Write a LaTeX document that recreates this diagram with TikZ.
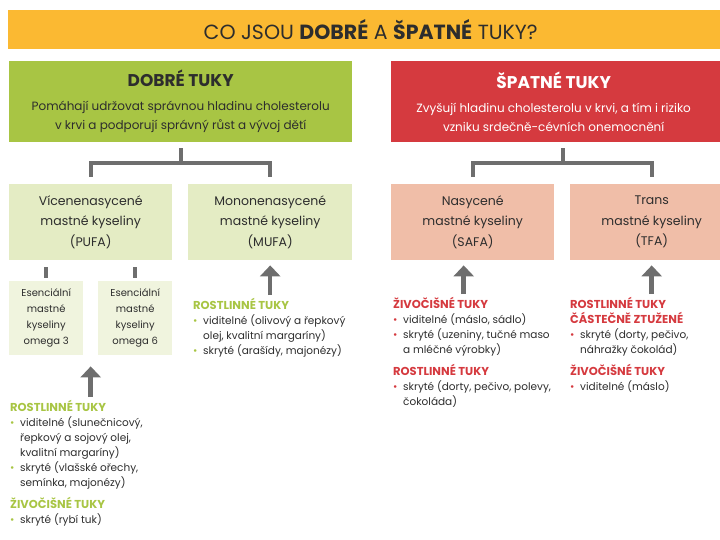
\documentclass[tikz,border=0pt]{standalone}
\usepackage{fontspec}
\setmainfont{Poppins}
\usetikzlibrary{positioning, calc, arrows.meta}
\definecolor{tukyorange}{RGB}{251,185,50}
\definecolor{goodgreen}{RGB}{168,197,68}
\definecolor{goodlight}{RGB}{228,236,196}
\definecolor{goodpale}{RGB}{240,244,222}
\definecolor{badred}{RGB}{213,58,63}
\definecolor{badlight}{RGB}{240,190,168}
\definecolor{linkgray}{RGB}{110,110,110}
\definecolor{textdark}{RGB}{45,45,45}
\newcommand{\gbul}{\makebox[10pt][l]{\textcolor{goodgreen}{\textbullet}}}
\newcommand{\rbul}{\makebox[10pt][l]{\textcolor{badred}{\textbullet}}}
\newcommand{\hang}{\hspace*{10pt}}
\newcommand{\listhead}[2]{\textcolor{#1}{\fontsize{11.5}{15}\selectfont\bfseries #2}}
\tikzset{
  titlebar/.style={fill=tukyorange, text=textdark, inner sep=0pt, font=\fontsize{20.5}{24}\selectfont},
  headbox/.style={minimum width=343pt, minimum height=81pt, inner sep=0pt, align=center, font=\fontsize{12}{19}\selectfont},
  kindbox/.style={minimum width=163pt, minimum height=76pt, inner sep=0pt, align=center, text=textdark, font=\fontsize{12.5}{20.5}\selectfont},
  omegabox/.style={fill=goodpale, minimum width=74pt, minimum height=74pt, inner sep=0pt, align=center, text=textdark, font=\fontsize{10}{16}\selectfont},
  foodlist/.style={anchor=north west, inner sep=0pt, align=left, text=textdark, font=\fontsize{10.5}{15}\selectfont},
  link/.style={draw=linkgray, line width=4pt},
  uparrow/.style={draw=linkgray, line width=4.5pt, -{Triangle[width=20pt,length=11pt]}, shorten <=3pt, shorten >=5pt}
}

\begin{document}
\begin{tikzpicture}[x=1pt, y=-1pt]
  \useasboundingbox (0,0) rectangle (720,540);

  % title
  \node[titlebar, anchor=north west, minimum width=725pt, minimum height=39pt] (title) at (8,10)
    {CO JSOU \textbf{DOBRÉ} A \textbf{ŠPATNÉ} TUKY?};

  % good and bad fats
  \node[headbox, fill=goodgreen, text=textdark, anchor=north west] (good) at (9,61)
    {{\fontsize{17}{18}\selectfont\bfseries DOBRÉ TUKY}\\[5pt]
     Pomáhají udržovat správnou hladinu cholesterolu\\
     v krvi a podporují správný růst a vývoj dětí};
  \node[headbox, fill=badred, anchor=north west] (bad) at (391,61) {};
  \node[align=center, text=white, inner sep=0pt, font=\fontsize{12}{19}\selectfont] (badtext) at ([xshift=-9pt]bad.center)
    {{\fontsize{17}{18}\selectfont\bfseries ŠPATNÉ TUKY}\\[5pt]
     Zvyšují hladinu cholesterolu v krvi, a tím i riziko\\
     vzniku srdečně-cévních onemocnění};

  % kinds of fatty acids
  \node[kindbox, fill=goodlight, anchor=north west] (pufa) at (9,184)
    {Vícenenasycené\\ mastné kyseliny\\ (PUFA)};
  \node[kindbox, fill=goodlight, anchor=north west, minimum width=164pt] (mufa) at (188,184)
    {Mononenasycené\\ mastné kyseliny\\ (MUFA)};
  \node[kindbox, fill=badlight, anchor=north west] (safa) at (391,184)
    {Nasycené\\ mastné kyseliny\\ (SAFA)};
  \node[kindbox, fill=badlight, anchor=north west] (tfa) at (570,184)
    {Trans\\ mastné kyseliny\\ (TFA)};

  \node[omegabox, anchor=north west] (om3) at (9,281) {Esenciální\\ mastné\\ kyseliny\\ omega 3};
  \node[omegabox, anchor=north west] (om6) at (98,281) {Esenciální\\ mastné\\ kyseliny\\ omega 6};
  \coordinate (omgap) at ($(om3.south east)!0.5!(om6.south west)$);

  % brackets
  \draw[link] ($(good.south)+(0,6)$) -- ++(0,15) coordinate (gj) -| ($(pufa.north)+(0,-7)$);
  \draw[link] (gj) -| ($(mufa.north)+(0,-7)$);
  \draw[link] ($(bad.south)+(0,6)$) -- ++(0,15) coordinate (bj) -| ($(safa.north)+(0,-7)$);
  \draw[link] (bj) -| ($(tfa.north)+(0,-7)$);
  \draw[link, shorten <=7pt, shorten >=3pt] (pufa.south -| om3.north) -- (om3.north);
  \draw[link, shorten <=7pt, shorten >=3pt] (pufa.south -| om6.north) -- (om6.north);

  % food lists
  \node[foodlist] (mufalist) at (193,298)
    {\listhead{goodgreen}{ROSTLINNÉ TUKY}\\
     \gbul viditelné (olivový a řepkový\\
     \hang olej, kvalitní margaríny)\\
     \gbul skryté (arašídy, majonézy)};
  \node[foodlist] (safalist) at (393,297)
    {\listhead{badred}{ŽIVOČIŠNÉ TUKY}\\
     \rbul viditelné (máslo, sádlo)\\
     \rbul skryté (uzeniny, tučné maso\\
     \hang a mléčné výrobky)\\[7pt]
     \listhead{badred}{ROSTLINNÉ TUKY}\\
     \rbul skryté (dorty, pečivo, polevy,\\
     \hang čokoláda)};
  \node[foodlist] (tfalist) at (570,297)
    {\listhead{badred}{ROSTLINNÉ TUKY}\\
     \listhead{badred}{ČÁSTEČNĚ ZTUŽENÉ}\\
     \rbul skryté (dorty, pečivo,\\
     \hang náhražky čokolád)\\[7pt]
     \listhead{badred}{ŽIVOČIŠNÉ TUKY}\\
     \rbul viditelné (máslo)};
  \node[foodlist] (pufalist) at (10,400)
    {\listhead{goodgreen}{ROSTLINNÉ TUKY}\\
     \gbul viditelné (slunečnicový,\\
     \hang řepkový a sojový olej,\\
     \hang kvalitní margaríny)\\
     \gbul skryté (vlašské ořechy,\\
     \hang semínka, majonézy)\\[7pt]
     \listhead{goodgreen}{ŽIVOČIŠNÉ TUKY}\\
     \gbul skryté (rybí tuk)};

  % arrows
  \draw[uparrow] (mufalist.north -| mufa.south) -- (mufa.south);
  \draw[uparrow] ([xshift=-9pt]safalist.north -| safa.south) -- ([xshift=-9pt]safa.south);
  \draw[uparrow] (tfalist.north -| tfa.south) -- (tfa.south);
  \draw[uparrow, shorten >=11pt] (pufalist.north -| omgap) -- (omgap);
\end{tikzpicture}
\end{document}
